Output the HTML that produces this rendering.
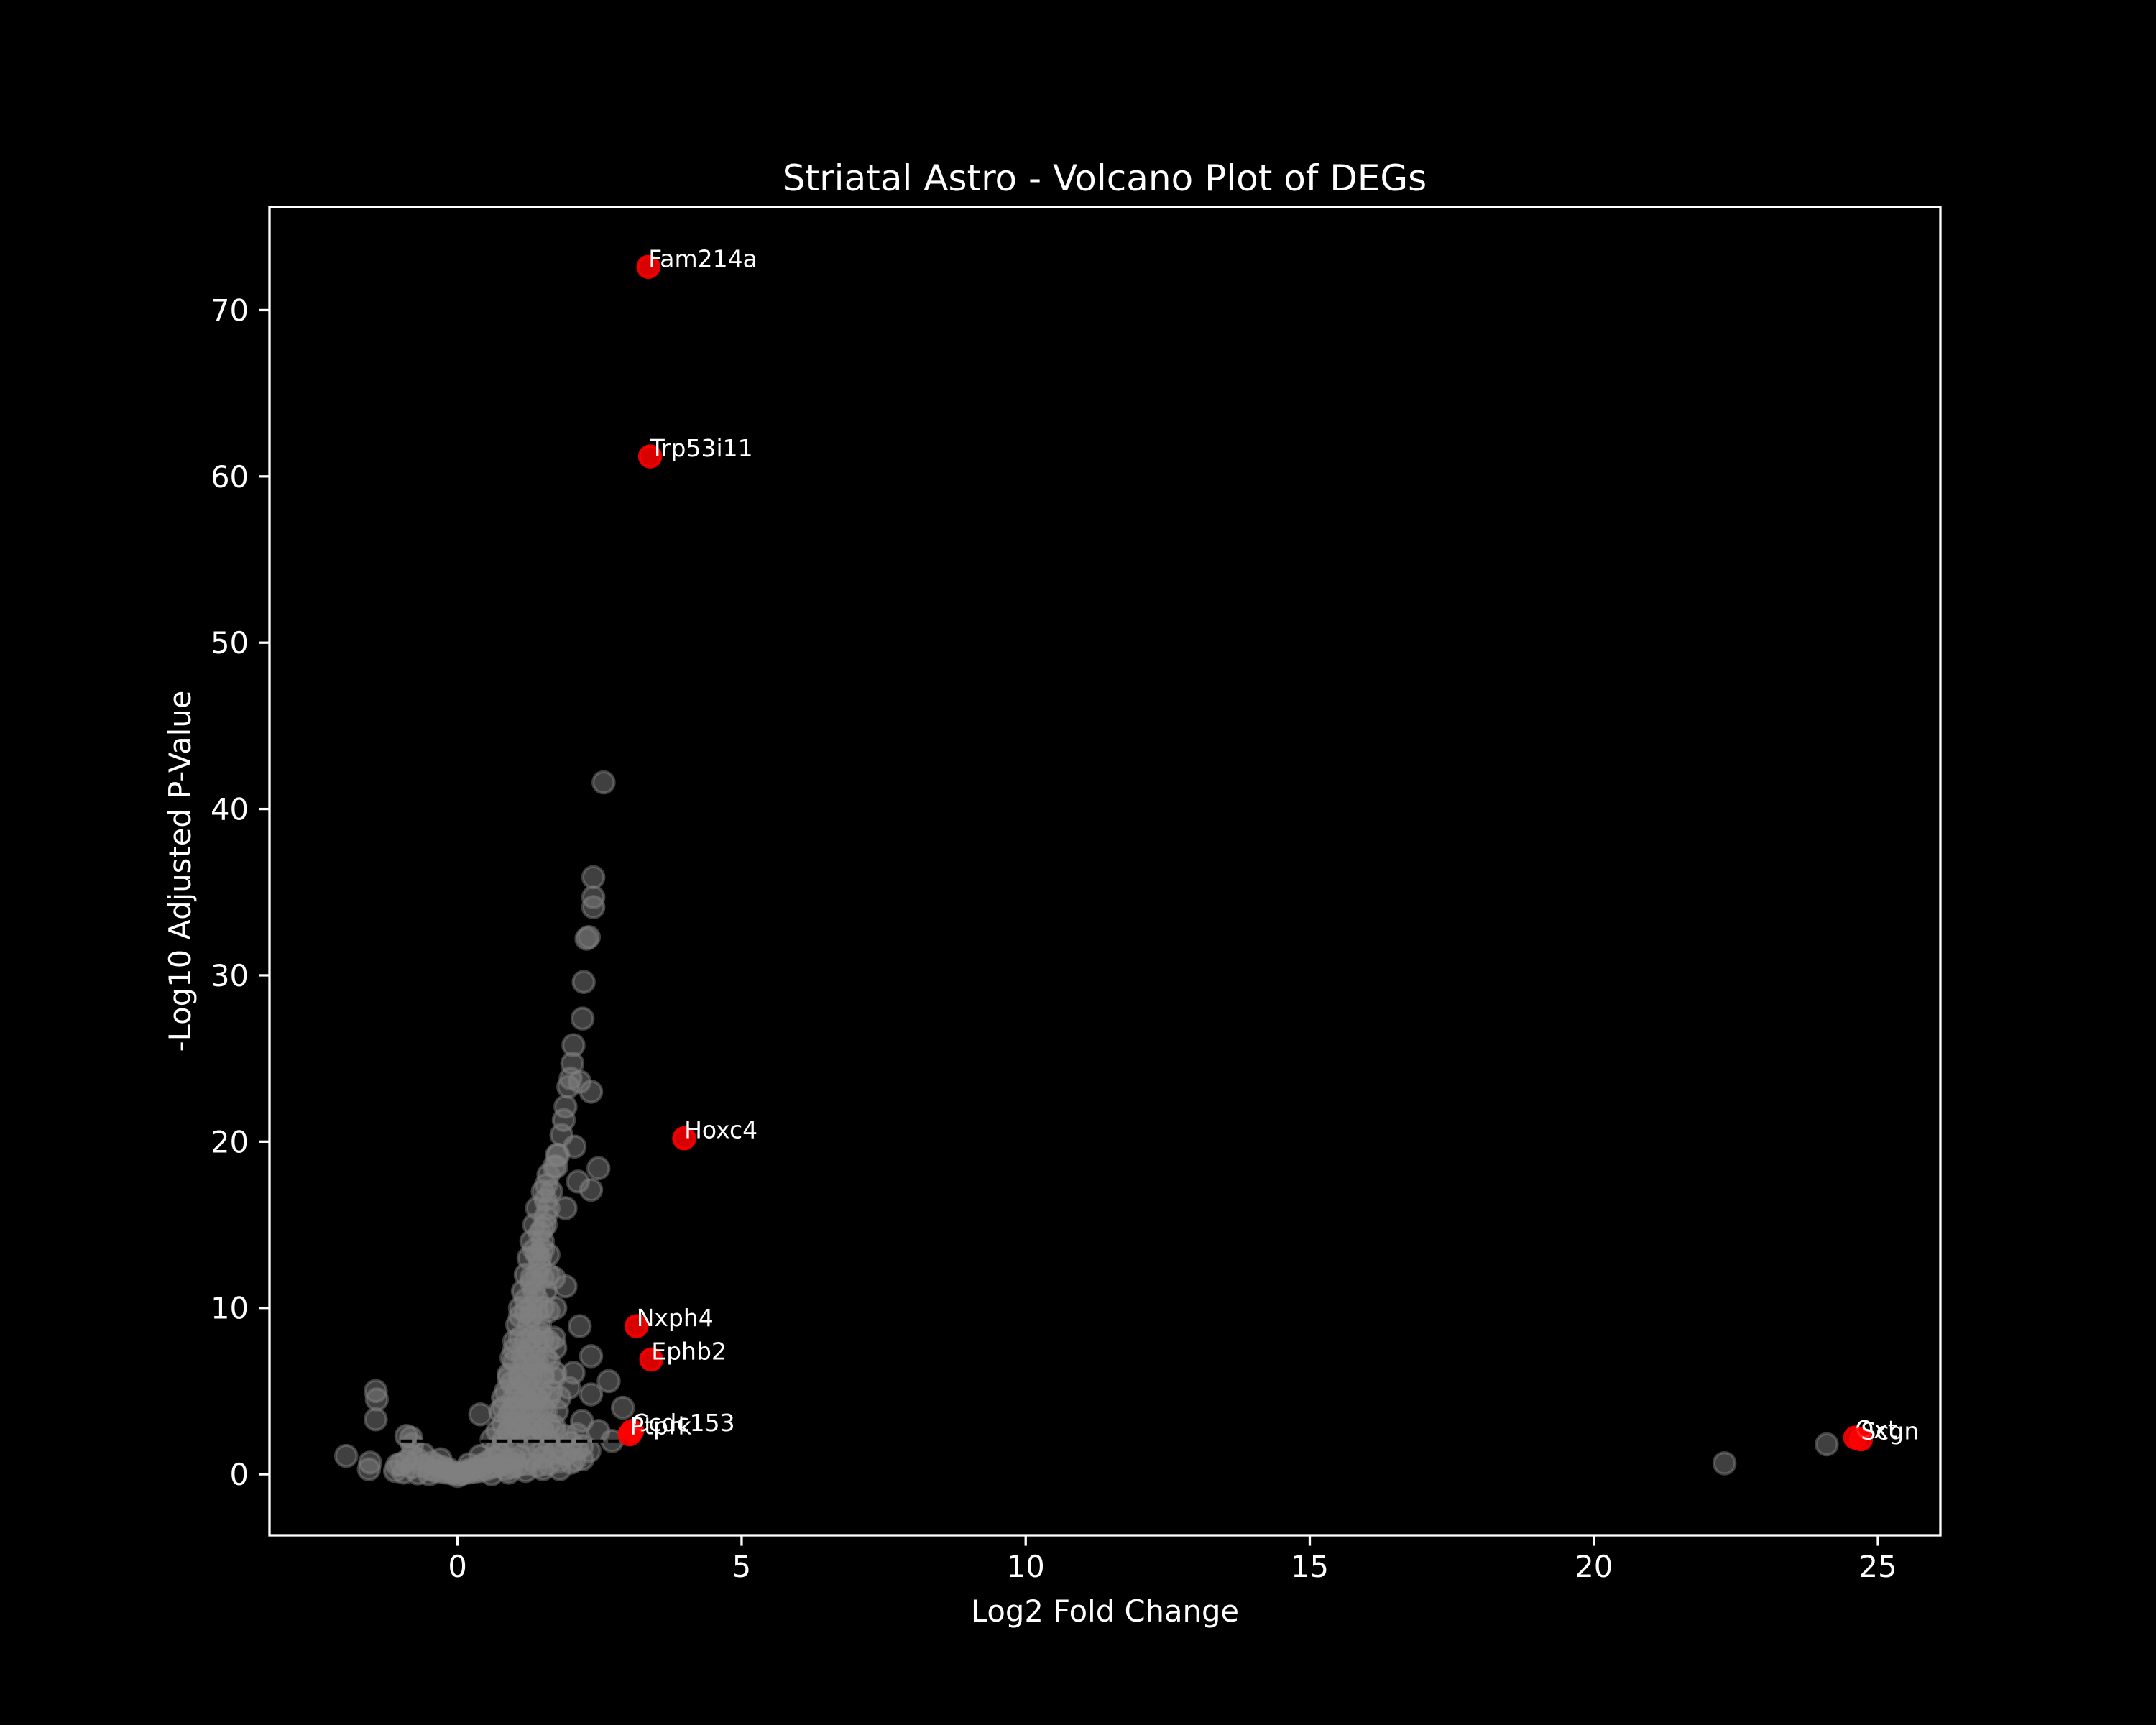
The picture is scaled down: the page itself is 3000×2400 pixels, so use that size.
<!DOCTYPE html>
<html><head><meta charset="utf-8"><style>
html,body{margin:0;padding:0;background:#000;}
svg{display:block;font-family:"DejaVu Sans","Liberation Sans",sans-serif;}
</style></head><body>
<svg id="chart" width="3000" height="2400" xmlns="http://www.w3.org/2000/svg">
<rect width="3000" height="2400" fill="#000"/>
<text x="1537" y="265" fill="#fff" font-size="50" text-anchor="middle">Striatal Astro - Volcano Plot of DEGs</text>
<g id="points"></g>
<g id="axes"></g>
</svg>
<script>
const grayX = [-1.0,-0.9,-0.8,-0.7,-0.6,-0.5,-0.45,-0.4,-0.35,-0.3,-0.25,-0.2,-0.15,-0.1,-0.05,0,0.05,0.1,0.15,0.2,0.25,0.3,0.35,0.4,0.45,0.5,0.55,0.6,0.65,0.7,0.75,0.8,0.85,0.9,0.95,1.0,1.05,1.1,1.2,1.3,1.4,1.5,1.6,1.7,1.8,1.9,2.0,2.1,2.2,-0.8,-0.6,-0.3,0.2,0.4,-1.1,-0.95,-0.7,-0.5,0.6,0.9,1.2,1.5,1.8,
0.8,0.9,1.0,1.1,1.2,1.3,1.4,1.5,1.6,1.7,1.8,1.9,2.0,2.1,2.2,0.7,-0.8,-0.9,0.6,1.5,
0.8,1.0,1.2,1.4,1.6,0.8,1.0,1.3,1.5,0.85,1.05,1.25,1.45,1.65,0.9,1.1,1.3,1.5,0.95,1.15,1.35,1.55,1.0,1.2,1.4,1.6,1.05,1.25,1.45,1.1,1.3,1.5,1.15,1.35,1.55,1.2,1.4,1.6,1.25,1.45,1.3,1.5,1.35,1.55,1.4,1.6,1.5,1.6,
0.9,1.1,1.2,1.4,0.95,1.2,1.35,1.0,1.25,1.45,1.1,1.3,1.2,1.4,1.3,1.45,1.35,1.5,1.45,1.55,1.55,1.65,1.7,1.75,
0.7,0.9,1.1,1.3,1.5,1.7,0.75,0.95,1.15,1.35,1.55,1.75,0.8,1.0,1.2,1.4,1.6,1.8,0.9,1.1,1.3,1.5,1.7,1.0,1.2,1.4,1.6,1.1,1.3,1.5,1.7,1.2,1.4,1.6,1.3,1.5,1.7,1.4,1.6,1.5,
2.57,2.39,2.39,2.39,2.31,2.27,2.22,2.20,2.04,2.02,1.99,2.15,2.35,1.95,1.9,1.87,1.83,2.06,1.77,1.74,2.48,2.12,2.35,1.56,
2.15,2.35,2.04,1.96,2.66,2.35,2.91,2.19,2.48,2.72,2.32,2.06,1.9,1.9,1.72,1.72,1.72,
-1.44,-1.42,-1.44,-1.96,-1.54,-1.56,-0.82,-1.06,0.4,22.3,24.1];
const grayY = [0.6,0.8,0.4,0.9,0.5,0.3,0.7,0.2,0.5,0.15,0.4,0.1,0.3,0.05,0.1,-0.1,0.0,0.05,0.2,0.1,0.3,0.15,0.4,0.2,0.6,0.3,0.8,0.4,1.0,0.5,1.2,0.6,0.3,0.8,0.4,0.9,0.5,1.1,0.6,0.9,0.5,1.0,0.6,1.3,0.8,1.2,0.7,1.5,0.9,1.1,1.2,0.9,0.6,1.1,0.2,0.1,0.05,0.0,0.0,0.1,0.2,0.3,0.3,
2.0,2.5,1.8,2.8,2.2,3.0,1.7,2.6,2.0,2.9,1.6,2.3,1.9,2.4,1.7,1.6,1.8,2.3,2.1,1.4,
3,3,3,3,3,4,4,4,4,5,5,5,5,5,6,6,6,6,7,7,7,7,8,8,8,8,9,9,9,10,10,10,11,11,11,12,12,12,13,13,14,14,15,15,16,16,17,18,
3.5,3.5,4.5,4.5,5.5,5.5,6.5,7.5,7.5,8.5,9.5,9.5,10.5,10.5,11.5,12.5,13.5,13.5,14.5,15.5,16.5,17,18.5,19.2,
2.6,2.6,2.6,2.6,2.6,2.6,3.8,3.8,3.8,3.8,3.8,3.8,4.6,4.6,4.6,4.6,4.6,4.6,5.8,5.8,5.8,5.8,5.8,6.8,6.8,6.8,6.8,8.2,8.2,8.2,8.2,9.8,9.8,9.8,11.8,11.8,11.8,13.2,13.2,14.8,
41.6,35.9,34.7,34.1,32.3,32.2,29.6,27.4,25.8,24.7,23.8,23.6,23.0,23.3,22.1,21.3,20.4,19.7,19.2,18.5,18.4,17.6,17.1,17.4,
8.9,7.1,6.1,5.2,5.6,4.8,4.0,3.2,2.6,2.0,1.4,0.85,11.3,16.0,10.0,7.6,6.1,
5.0,4.5,3.3,1.1,0.7,0.3,2.2,0.55,3.6,0.66,1.8];
const sigGenes = ["Fam214a","Trp53i11","Hoxc4","Nxph4","Ephb2","Ccdc153","Ptprk","Oxt","Scgn"];
const sigX = [3.36,3.39,3.99,3.15,3.41,3.07,3.03,24.6,24.7];
const sigY = [72.6,61.2,20.2,8.9,6.9,2.6,2.4,2.2,2.1];
const xTicks = [0,5,10,15,20,25];
const yTicks = [0,10,20,30,40,50,60,70];
const threshold = [2];
const thresholdRange = [-1,3];

const L=375,R=2700,T=288,B=2136;
const xMin=-3.31,xMax=26.1,yMin=-3.67,yMax=76.2;
const sx=v=>L+(v-xMin)/(xMax-xMin)*(R-L);
const sy=v=>B-(v-yMin)/(yMax-yMin)*(B-T);
const NS="http://www.w3.org/2000/svg";
const pts=document.getElementById('points');
const ax=document.getElementById('axes');
function mk(tag,attrs,parent){const e=document.createElementNS(NS,tag);for(const k in attrs)e.setAttribute(k,attrs[k]);parent.appendChild(e);return e;}

for(let i=0;i<grayX.length;i++){
  const c=mk('circle',{cx:sx(grayX[i]),cy:sy(grayY[i]),r:14.7,fill:'#808080','fill-opacity':0.5,stroke:'#808080','stroke-opacity':0.5,'stroke-width':4.2},pts);
  
  
}
const hl=mk('line',{x1:sx(thresholdRange[0]),x2:sx(thresholdRange[1]),y1:sy(threshold[0]),y2:sy(threshold[0]),stroke:'#000','stroke-width':4.2,'stroke-dasharray':'15.5 6.7'},pts);


for(let i=0;i<sigX.length;i++){
  const c=mk('circle',{cx:sx(sigX[i]),cy:sy(sigY[i]),r:14.7,fill:'#ff0000','fill-opacity':0.85,stroke:'#ff0000','stroke-opacity':0.85,'stroke-width':4.2},pts);
  
  
  const t=mk('text',{x:sx(sigX[i]),y:sy(sigY[i]),fill:'#fff','font-size':33},pts);
  t.textContent=sigGenes[i];
  
  
}
const fr=mk('rect',{x:L,y:T,width:R-L,height:B-T,fill:'none',stroke:'#fff','stroke-width':3.3},ax);


xTicks.forEach(v=>{
  const x=sx(v);
  const tk=mk('line',{x1:x,x2:x,y1:B,y2:B+14.6,stroke:'#fff','stroke-width':3.3},ax);
  
  
  const t=mk('text',{x:x,y:B+58,fill:'#fff','font-size':41.7,'text-anchor':'middle'},ax);
  t.textContent=v;
  
  
});
yTicks.forEach(v=>{
  const y=sy(v);
  const tk=mk('line',{x1:L-14.6,x2:L,y1:y,y2:y,stroke:'#fff','stroke-width':3.3},ax);
  
  
  const t=mk('text',{x:L-29,y:y+15,fill:'#fff','font-size':41.7,'text-anchor':'end'},ax);
  t.textContent=v;
  
  
});
const xl=mk('text',{x:(L+R)/2,y:2256,fill:'#fff','font-size':41.7,'text-anchor':'middle'},ax);
xl.textContent='Log2 Fold Change';


const yl=mk('text',{x:0,y:0,fill:'#fff','font-size':41.7,'text-anchor':'middle',transform:`translate(265,${(T+B)/2}) rotate(-90)`},ax);
yl.textContent='-Log10 Adjusted P-Value';


</script>
</body></html>
